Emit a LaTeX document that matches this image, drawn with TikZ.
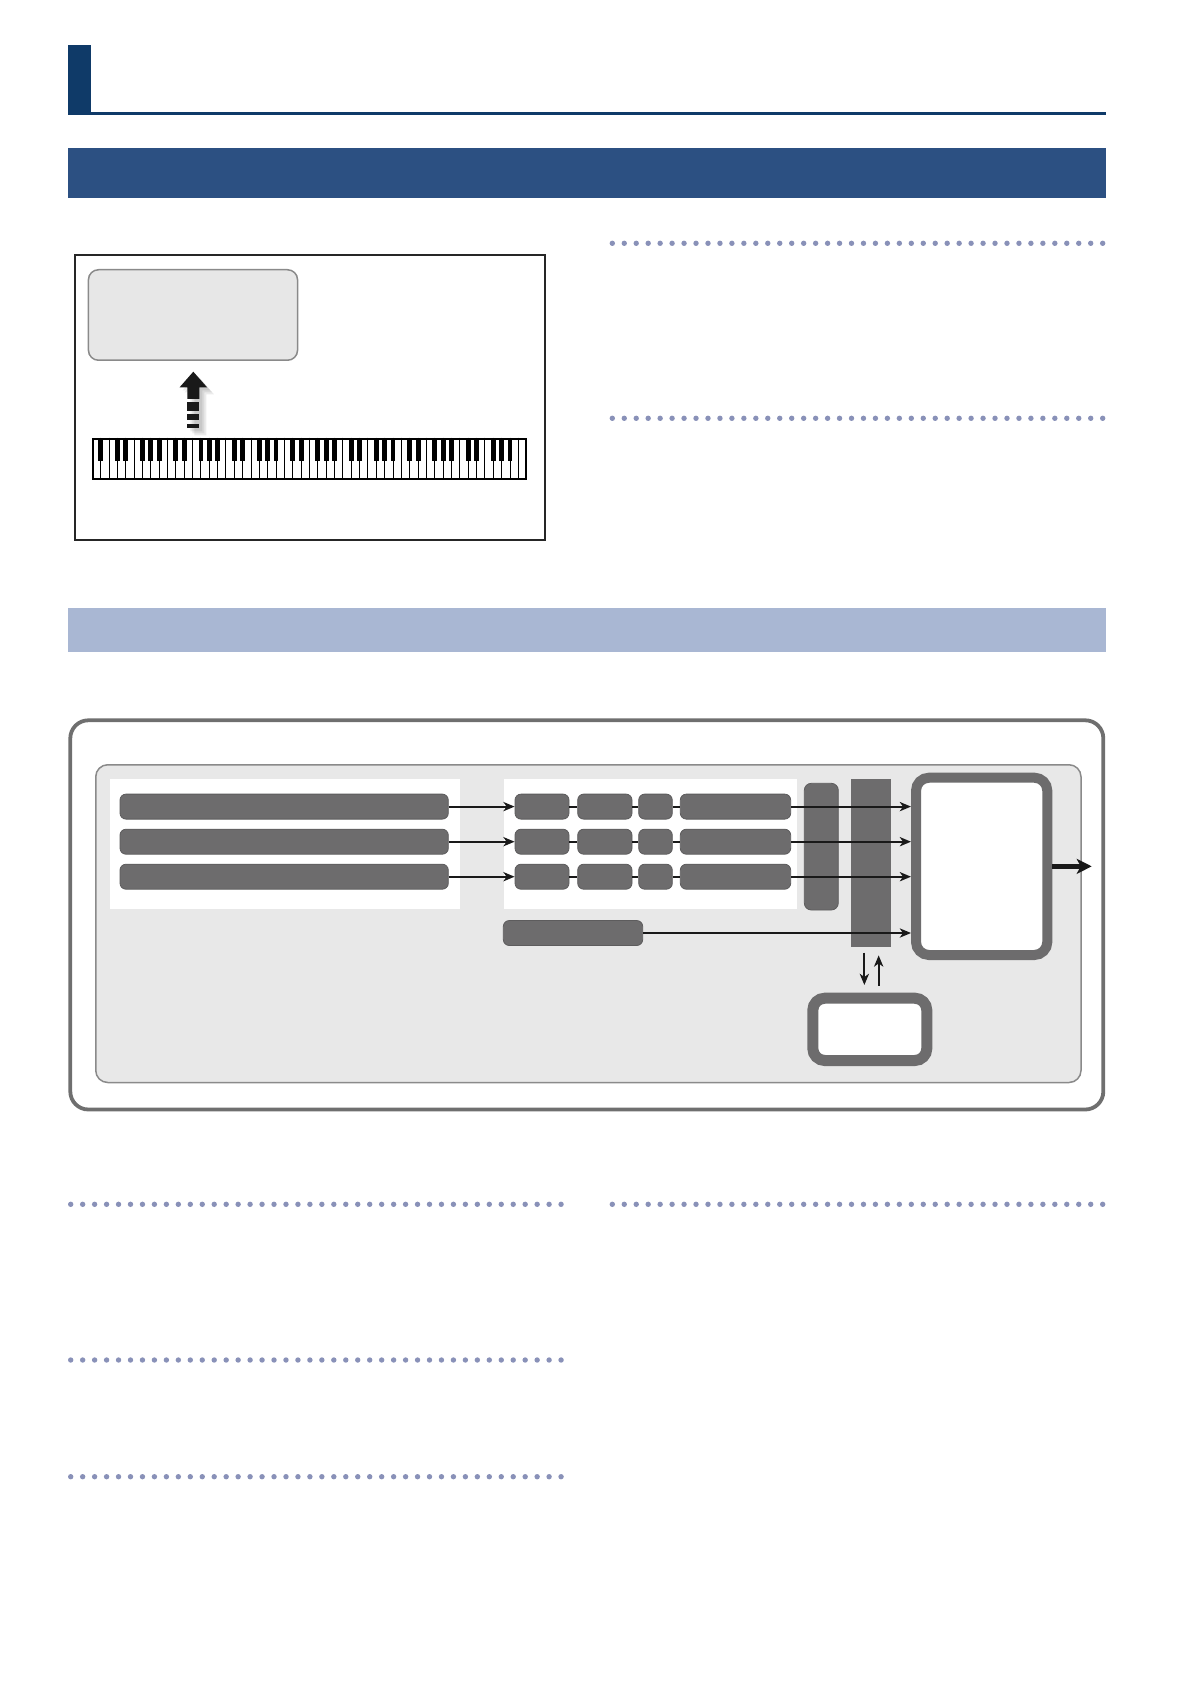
\documentclass[tikz,border=0pt]{standalone}
\usetikzlibrary{arrows.meta}
\definecolor{navybar}{HTML}{0F3A68}
\definecolor{headband}{HTML}{2C5082}
\definecolor{subband}{HTML}{A9B7D3}
\definecolor{dotblue}{HTML}{8991B8}
\definecolor{unitgray}{HTML}{6D6C6D}
\definecolor{panelgray}{HTML}{E8E8E8}
\definecolor{framegray}{HTML}{6F6F6F}
\definecolor{edgegray}{HTML}{8A8A8A}
\definecolor{dispgray}{HTML}{E7E7E7}
\tikzset{
  unitblk/.style={fill=unitgray, draw=unitgray!85!black, line width=0.4pt,
                  rounded corners=3pt, inner sep=0pt, minimum height=12.5pt},
  ringbox/.style={draw=unitgray, fill=white, inner sep=0pt},
  sig/.style={->, line width=1.1pt, draw=black!90},
  dotrow/.style={fill=dotblue},
}

\begin{document}
\begin{tikzpicture}[x=0.5pt, y=-0.5pt, >={Stealth[length=5.6pt, width=4.6pt, inset=1.6pt]}]
    \useasboundingbox (0,0) rectangle (1191,1684);

    % page heading
    \fill[navybar] (68,45) rectangle (90.7,115);
    \fill[navybar] (68,111.7) rectangle (1106,115);
    \fill[headband] (68,147.7) rectangle (1106,198.3);
    \fill[subband] (68,608.3) rectangle (1106,652.3);

    % dotted rules
    \foreach \y in {243.3, 418.3, 1204.3}
      \foreach \i in {0,...,41}
        \fill[dotrow] (612.3+\i*11.96, \y) circle (1.35pt);
    \foreach \y in {1204.3, 1360, 1476.7}
      \foreach \i in {0,...,41}
        \fill[dotrow] (70.7+\i*11.96, \y) circle (1.35pt);

    % keyboard figure
    \draw[line width=1pt, black!85] (75,255) rectangle (544.7,540);
    \node[draw=edgegray, fill=dispgray, line width=0.75pt, rounded corners=5pt,
          minimum width=104.55pt, minimum height=45.25pt, inner sep=0pt] (disp) at (193,315) {};
    \foreach \s in {3,5,7}
      \fill[black, opacity=0.08, shift={(\s,\s)}]
        (193.3,371.7) -- (207,387.3) -- (199.3,387.3) -- (199.3,428.3)
        -- (187.3,428.3) -- (187.3,387.3) -- (179.6,387.3) -- cycle;
    \fill[black!90] (193.3,371.7) -- (207,387.3) -- (199.3,387.3) -- (199.3,399)
        -- (187.3,399) -- (187.3,387.3) -- (179.6,387.3) -- cycle;
    \fill[black!90] (187.3,401.7) rectangle (199.3,411);
    \fill[black!90] (187.3,414.3) rectangle (199.3,420);
    \fill[black!90] (187.3,424) rectangle (199.3,428.3);
    \node[draw, fill=white, line width=1pt, minimum width=216.2pt, minimum height=20.15pt,
          inner sep=0pt] (kbd) at (309.5,458.85) {};
    \foreach \i in {1,...,51}
      \draw[line width=0.5pt] (92.3+\i*8.354, 437.7) -- (92.3+\i*8.354, 480);
    \fill (92.3+8.354-2.4, 437.7) rectangle (92.3+8.354+2.4, 460.7);
    \foreach \o in {0,...,6}
      \foreach \k in {0,1,3,4,5} {
        \pgfmathsetmacro\bx{92.3+(3+7*\o+\k)*8.354}
        \fill (\bx-2.4, 437.7) rectangle (\bx+2.4, 460.7);
      }

    % block diagram
    \draw[framegray, line width=1.9pt, rounded corners=9pt] (70.3,720.3) rectangle (1103.3,1109.5);
    \draw[edgegray, fill=panelgray, line width=0.75pt, rounded corners=6pt] (95.75,764.75) rectangle (1081,1082.5);
    \fill[white] (110,779) rectangle (460,909);
    \fill[white] (504,779) rectangle (796.7,909);

    \node[unitblk, rounded corners=3.5pt, minimum width=17pt, minimum height=63.35pt] (fx) at (821.3,846.65) {};
    \node[fill=unitgray, inner sep=0pt, minimum width=19.85pt, minimum height=83.85pt] (mix) at (870.85,862.85) {};
    \node[ringbox, line width=5pt, rounded corners=6.5pt, minimum width=65.65pt, minimum height=88.65pt] (tone) at (981.65,866.35) {};
    \node[ringbox, line width=5.5pt, rounded corners=6pt, minimum width=57pt, minimum height=31.15pt] (ext) at (869.8,1029.35) {};
    \node[unitblk, minimum width=69.7pt] (perc) at (573,933) {};

    \foreach \r/\y in {1/806.6, 2/841.7, 3/876.7} {
      \node[unitblk, minimum width=164.15pt] (src\r) at (284.15,\y) {};
      \node[unitblk, minimum width=27pt] (pa\r) at (542,\y) {};
      \node[unitblk, minimum width=27.15pt] (pb\r) at (604.85,\y) {};
      \node[unitblk, minimum width=16.8pt] (pc\r) at (655.5,\y) {};
      \node[unitblk, minimum width=55.2pt] (pd\r) at (735.5,\y) {};
      \draw[sig] (src\r) -- (pa\r);
      \draw[line width=1.1pt, black!90] (pa\r) -- (pb\r) -- (pc\r) -- (pd\r);
      \draw[sig] (pd\r) -- (pd\r -| tone.west);
    }
    \draw[sig] (perc) -- (perc -| tone.west);
    \coordinate (outtip) at (1091.7,866.35);
    \draw[-{Stealth[length=7.5pt, width=7.5pt, inset=2pt]}, line width=2.3pt, black!90] (tone) -- (outtip);

    \coordinate (dn) at ([xshift=-3.25pt]mix.south);
    \coordinate (up) at ([xshift=3.9pt]mix.south);
    \draw[sig, shorten <=2.8pt, shorten >=3.85pt] (dn) -- (dn |- ext.north);
    \draw[sig, shorten <=3.5pt, shorten >=4.15pt] (up |- ext.north) -- (up);
\end{tikzpicture}
\end{document}
